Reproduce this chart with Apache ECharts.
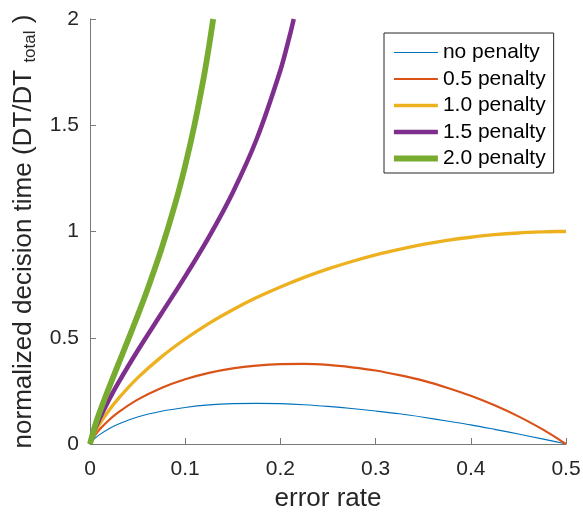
<!DOCTYPE html>
<html>
<head>
<meta charset="utf-8">
<script src="https://cdn.jsdelivr.net/npm/echarts@6/dist/echarts.min.js"></script>
<style>
html,body{margin:0;padding:0;background:#fff;}
#chart{width:583px;height:513px;}
</style>
</head>
<body>
<div id="chart"></div>
<script>
// ---- data ----
var seriesNames = ['no penalty', '0.5 penalty', '1.0 penalty', '1.5 penalty', '2.0 penalty'];

var errLow = [0, 0.005, 0.01, 0.02, 0.03, 0.05, 0.075, 0.1, 0.125, 0.15, 0.175, 0.2, 0.225, 0.25, 0.275, 0.3, 0.325, 0.35, 0.375, 0.4, 0.425, 0.45, 0.475, 0.49, 0.5];
var dtNoPenalty = [0, 0.026, 0.044, 0.072, 0.094, 0.127, 0.154, 0.172, 0.184, 0.190, 0.191, 0.190, 0.185, 0.177, 0.167, 0.155, 0.142, 0.126, 0.108, 0.090, 0.069, 0.047, 0.024, 0.010, 0];
var dtPenalty05 = [0, 0.039, 0.068, 0.113, 0.150, 0.209, 0.264, 0.305, 0.335, 0.356, 0.369, 0.376, 0.377, 0.372, 0.361, 0.346, 0.324, 0.298, 0.265, 0.227, 0.182, 0.130, 0.070, 0.029, 0];
var dtPenalty10 = [0, 0.053, 0.093, 0.159, 0.215, 0.311, 0.410, 0.494, 0.568, 0.632, 0.689, 0.739, 0.784, 0.824, 0.859, 0.890, 0.916, 0.939, 0.958, 0.973, 0.985, 0.993, 0.998, 1.000, 1.000];

var err15 = [0, 0.005, 0.01, 0.02, 0.03, 0.05, 0.075, 0.1, 0.125, 0.15, 0.175, 0.2, 0.21, 0.214];
var dtPenalty15 = [0, 0.068, 0.119, 0.209, 0.290, 0.439, 0.614, 0.789, 0.975, 1.184, 1.434, 1.759, 1.925, 2.0];

var err20 = [0, 0.005, 0.01, 0.02, 0.03, 0.04, 0.05, 0.06, 0.075, 0.09, 0.1, 0.11, 0.12, 0.125, 0.1294];
var dtPenalty20 = [0, 0.082, 0.148, 0.266, 0.378, 0.490, 0.604, 0.723, 0.917, 1.139, 1.310, 1.507, 1.738, 1.871, 2.0];

var xTicks = [0, 0.1, 0.2, 0.3, 0.4, 0.5];
var yTicks = [0, 0.5, 1, 1.5, 2];

// ---- styles ----
var colors = ['#0072BD', '#D95319', '#EDB120', '#7E2F8E', '#77AC30'];
var widths = [1.1, 2.2, 3.3, 4.5, 5.8];
var FONT = '"Liberation Sans", Arial, Helvetica, sans-serif';
var TXT = '#262626';
var AXIS = '#7a7a7a';

function zip(xs, ys) { return xs.map(function (x, i) { return [x, ys[i]]; }); }
var dataSets = [
  zip(errLow, dtNoPenalty),
  zip(errLow, dtPenalty05),
  zip(errLow, dtPenalty10),
  zip(err15, dtPenalty15),
  zip(err20, dtPenalty20)
];

var chart = echarts.init(document.getElementById('chart'), null, {renderer: 'canvas'});
chart.setOption({
  animation: false,
  backgroundColor: '#fff',
  grid: {left: 90, top: 19, width: 476, height: 425, outerBoundsMode: 'none', containLabel: false},
  legend: {
    orient: 'vertical', left: 384, top: 33,
    padding: [9, 8, 4, 7],
    itemWidth: 44, itemHeight: 14, itemGap: 5.5,
    borderColor: '#262626', borderWidth: 1, backgroundColor: '#fff',
    lineStyle: {width: 'inherit'},
    itemStyle: {opacity: 0},
    textStyle: {fontSize: 21, color: '#000', fontFamily: FONT},
    data: seriesNames
  },
  xAxis: {
    type: 'value', min: xTicks[0], max: xTicks[xTicks.length - 1], interval: 0.1,
    name: 'error rate', nameLocation: 'middle', nameGap: 42,
    nameTextStyle: {fontSize: 26, color: TXT, fontFamily: FONT},
    axisLine: {show: true, onZero: false, lineStyle: {color: AXIS, width: 1}},
    axisTick: {show: true, inside: true, length: 6, lineStyle: {color: AXIS}},
    axisLabel: {fontSize: 21, color: TXT, fontFamily: FONT, margin: 15},
    splitLine: {show: false}
  },
  yAxis: {
    type: 'value', min: yTicks[0], max: yTicks[yTicks.length - 1], interval: 0.5,
    name: '{a|normalized decision time (DT/DT }{s|total}{a| )}',
    nameLocation: 'middle', nameGap: 50,
    nameTextStyle: {
      fontFamily: FONT, color: TXT,
      rich: {
        a: {fontSize: 26, lineHeight: 30, color: TXT, fontFamily: FONT},
        s: {fontSize: 17, lineHeight: 17, verticalAlign: 'bottom', color: TXT, fontFamily: FONT}
      }
    },
    axisLine: {show: true, onZero: false, lineStyle: {color: AXIS, width: 1}},
    axisTick: {show: true, inside: true, length: 6, lineStyle: {color: AXIS}},
    axisLabel: {fontSize: 21, color: TXT, fontFamily: FONT, margin: 11},
    splitLine: {show: false}
  },
  series: dataSets.map(function (d, i) {
    return {
      name: seriesNames[i], type: 'line', data: d,
      symbol: 'none', smooth: 0.3, clip: false,
      lineStyle: {color: colors[i], width: widths[i]},
      itemStyle: {color: colors[i]}
    };
  })
});
</script>
</body>
</html>
